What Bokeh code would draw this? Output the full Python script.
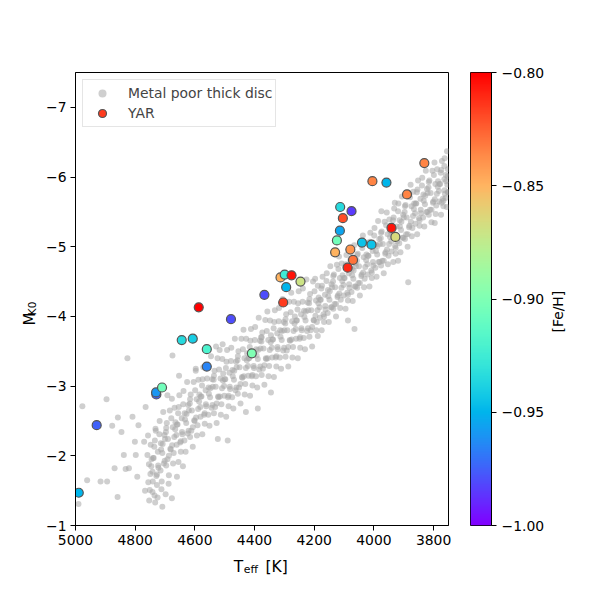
import math
import numpy as np
from bokeh.plotting import figure
from bokeh.models import (Range1d, FixedTicker, CustomJSTickFormatter, Legend, LegendItem,
                          Label, LinearColorMapper, ColumnDataSource)
from bokeh.layouts import row, column
from bokeh.embed import file_html
from bokeh.resources import INLINE

FONT = "DejaVu Sans"
FS = "13.9px"

# ---------------- data ----------------
yar_teff = [4989, 4929, 4729, 4730, 4710, 4644, 4607, 4560, 4560, 4587, 4479, 4409,
            4367, 4304, 4294, 4313, 4299, 4276, 4246, 4113, 4075, 4104, 4114, 4124,
            4130, 4079, 4070, 4088, 4040, 4008, 4005, 3958, 3889, 3831, 3941, 3928]
yar_mk = [-1.47, -2.44, -2.88, -2.91, -2.98, -3.66, -3.68, -3.53, -3.28, -4.13, -3.96, -3.47,
          -4.31, -4.20, -4.42, -4.56, -4.60, -4.59, -4.50, -5.57, -5.51, -5.41, -5.23, -5.09,
          -4.92, -4.96, -4.81, -4.70, -5.06, -5.03, -5.94, -5.92, -5.75, -6.20, -5.27, -5.14]
yar_feh = [-0.950, -0.975, -0.975, -0.960, -0.905, -0.935, -0.940, -0.920, -0.965, -0.800, -0.980, -0.900,
           -0.980, -0.815, -0.950, -0.850, -0.925, -0.805, -0.870, -0.935, -0.985, -0.820, -0.955, -0.905,
           -0.850, -0.840, -0.830, -0.810, -0.945, -0.945, -0.835, -0.950, -0.835, -0.835, -0.805, -0.865]

gray_teff = [
    4753, 4745, 4756, 4748, 4742, 4751, 4757, 4746, 4759, 4749, 4741, 4754,
    4727, 4734, 4723, 4732, 4738, 4729, 4724, 4735, 4722, 4736, 4740, 4727,
    4715, 4708, 4704, 4718, 4711, 4702, 4713, 4706, 4719, 4709, 4701, 4714,
    4684, 4692, 4697, 4687, 4694, 4681, 4690, 4696, 4682, 4696, 4700, 4687,
    4673, 4665, 4676, 4668, 4662, 4671, 4677, 4666, 4679, 4669, 4661, 4674,
    4647, 4654, 4643, 4652, 4658, 4649, 4644, 4655, 4642, 4656, 4660, 4647,
    4635, 4628, 4624, 4638, 4631, 4622, 4633, 4626, 4639, 4629, 4621, 4634,
    4604, 4612, 4617, 4607, 4614, 4601, 4610, 4616, 4602, 4616, 4620, 4607,
    4593, 4585, 4596, 4588, 4582, 4591, 4597, 4586, 4599, 4589, 4581, 4594,
    4567, 4574, 4563, 4572, 4578, 4569, 4564, 4575, 4562, 4576, 4580, 4567,
    4555, 4548, 4544, 4558, 4551, 4542, 4553, 4546, 4559, 4549, 4541, 4554,
    4524, 4532, 4537, 4527, 4534, 4521, 4530, 4536, 4522, 4536, 4540, 4527,
    4513, 4505, 4516, 4508, 4502, 4511, 4517, 4506, 4519, 4509, 4501, 4514,
    4487, 4494, 4483, 4492, 4498, 4489, 4484, 4495, 4482, 4496, 4500, 4487,
    4475, 4468, 4464, 4478, 4471, 4462, 4473, 4466, 4479, 4469, 4461, 4474,
    4444, 4452, 4457, 4447, 4454, 4441, 4450, 4456, 4442, 4456, 4460, 4447,
    4433, 4425, 4436, 4428, 4422, 4431, 4437, 4426, 4439, 4429, 4421, 4434,
    4407, 4414, 4403, 4412, 4418, 4409, 4404, 4415, 4402, 4416, 4420, 4407,
    4395, 4388, 4384, 4398, 4391, 4382, 4393, 4386, 4399, 4389, 4381, 4394,
    4364, 4372, 4377, 4367, 4374, 4361, 4370, 4376, 4362, 4376, 4380, 4367,
    4353, 4345, 4356, 4348, 4342, 4351, 4357, 4346, 4359, 4349, 4341, 4354,
    4327, 4334, 4323, 4332, 4338, 4329, 4324, 4335, 4322, 4336, 4340, 4327,
    4315, 4308, 4304, 4318, 4311, 4302, 4313, 4306, 4319, 4309, 4301, 4314,
    4284, 4292, 4297, 4287, 4294, 4281, 4290, 4296, 4282, 4296, 4300, 4287,
    4273, 4265, 4276, 4268, 4262, 4271, 4277, 4266, 4279, 4269, 4261, 4274,
    4247, 4254, 4243, 4252, 4258, 4249, 4244, 4255, 4242, 4256, 4260, 4247,
    4235, 4228, 4224, 4238, 4231, 4222, 4233, 4226, 4239, 4229, 4221, 4234,
    4204, 4212, 4217, 4207, 4214, 4201, 4210, 4216, 4202, 4216, 4220, 4207,
    4193, 4185, 4196, 4188, 4182, 4191, 4197, 4186, 4199, 4189, 4181, 4194,
    4167, 4174, 4163, 4172, 4178, 4169, 4164, 4175, 4162, 4176, 4180, 4167,
    4155, 4148, 4144, 4158, 4151, 4142, 4153, 4146, 4159, 4149, 4141, 4154,
    4124, 4132, 4137, 4127, 4134, 4121, 4130, 4136, 4122, 4136, 4140, 4127,
    4113, 4105, 4116, 4108, 4102, 4111, 4117, 4106, 4119, 4109, 4101, 4114,
    4087, 4094, 4083, 4092, 4098, 4089, 4084, 4095, 4082, 4096, 4100, 4087,
    4075, 4068, 4064, 4078, 4071, 4062, 4073, 4066, 4079, 4069, 4061, 4074,
    4044, 4052, 4057, 4047, 4054, 4041, 4050, 4056, 4042, 4056, 4060, 4047,
    4033, 4025, 4036, 4028, 4022, 4031, 4037, 4026, 4039, 4029, 4021, 4034,
    4007, 4014, 4003, 4012, 4018, 4009, 4004, 4015, 4002, 4016, 4020, 4007,
    3995, 3988, 3984, 3998, 3991, 3982, 3993, 3986, 3999, 3989, 3981, 3994,
    3964, 3972, 3977, 3967, 3974, 3961, 3970, 3976, 3962, 3976, 3980, 3967,
    3953, 3945, 3956, 3948, 3942, 3951, 3957, 3946, 3959, 3949, 3941, 3954,
    3927, 3934, 3923, 3932, 3938, 3929, 3924, 3935, 3922, 3936, 3940, 3927,
    3915, 3908, 3904, 3918, 3911, 3902, 3913, 3906, 3919, 3909, 3901, 3914,
    3884, 3892, 3897, 3887, 3894, 3881, 3890, 3896, 3882, 3896, 3900, 3887,
    3873, 3865, 3876, 3868, 3862, 3871, 3877, 3866, 3879, 3869, 3861, 3874,
    3847, 3854, 3843, 3852, 3858, 3849, 3844, 3855, 3842, 3856, 3860, 3847,
    3835, 3828, 3824, 3838, 3831, 3822, 3833, 3826, 3839, 3829, 3821, 3834,
    3804, 3812, 3817, 3807, 3814, 3801, 3810, 3816, 3802, 3816, 3820, 3807,
    3793, 3785, 3796, 3788, 3782, 3791, 3797, 3786, 3799, 3789, 3781, 3794,
    3767, 3774, 3763, 3772, 3778, 3769, 3764, 3775, 3762, 3776, 3780, 3767,
    3760, 3753, 3751, 3763, 3756, 3752, 3758, 3755, 3764, 3754, 3752, 3759,
    4977, 4896, 4858, 4877, 4846, 4838, 4869, 4916, 4961, 4859, 4990, 4709,
    4677, 4767, 4793, 4821, 4798, 4809, 4789, 4765, 4801, 4770, 4731, 4894,
    4832, 4826, 4675, 4653, 4692, 4507, 4529, 4597, 4378, 4345, 4490, 4389,
    4065, 4087, 4188, 3885, 3796, 3773, 3919, 3975, 3930, 4523, 4429,
    4742, 4725, 4712, 4698, 4688, 4733, 4660, 4640,
]
gray_mk = [
    -1.36, -1.95, -1.62, -2.16, -1.77, -1.51, -2.29, -1.85, -2.01, -1.74, -1.63, -1.88,
    -1.58, -2.22, -1.86, -2.39, -1.97, -1.71, -2.06, -1.43, -1.83, -2.13, -1.97, -1.73,
    -1.79, -2.17, -1.89, -2.50, -1.63, -2.30, -2.09, -2.63, -2.31, -2.04, -1.93, -2.18,
    -2.65, -1.95, -2.34, -1.72, -2.47, -2.09, -2.24, -1.86, -2.10, -2.40, -2.24, -2.00,
    -1.89, -2.48, -2.15, -2.69, -2.30, -2.04, -2.82, -2.38, -2.54, -2.27, -2.16, -2.41,
    -2.06, -2.70, -2.34, -2.87, -2.45, -2.19, -2.54, -1.91, -2.31, -2.61, -2.45, -2.21,
    -2.22, -2.60, -2.32, -2.93, -2.06, -2.73, -2.52, -3.06, -2.74, -2.47, -2.36, -2.61,
    -3.06, -2.36, -2.75, -2.13, -2.88, -2.50, -2.65, -2.27, -2.51, -2.81, -2.65, -2.41,
    -2.29, -2.88, -2.55, -3.09, -2.70, -2.44, -3.22, -2.78, -2.94, -2.67, -2.56, -2.81,
    -2.46, -3.10, -2.74, -3.27, -2.85, -2.59, -2.94, -2.31, -2.71, -3.01, -2.85, -2.61,
    -2.59, -2.97, -2.69, -3.30, -2.43, -3.10, -2.89, -3.43, -3.11, -2.84, -2.73, -2.98,
    -3.40, -2.70, -3.09, -2.47, -3.22, -2.84, -2.99, -2.61, -2.85, -3.15, -2.99, -2.75,
    -2.59, -3.18, -2.85, -3.39, -3.00, -2.74, -3.52, -3.08, -3.24, -2.97, -2.86, -3.11,
    -2.71, -3.35, -2.99, -3.52, -3.10, -2.84, -3.19, -2.56, -2.96, -3.26, -3.10, -2.86,
    -2.84, -3.22, -2.94, -3.55, -2.68, -3.35, -3.14, -3.68, -3.36, -3.09, -2.98, -3.23,
    -3.68, -2.98, -3.37, -2.75, -3.50, -3.12, -3.27, -2.89, -3.13, -3.43, -3.27, -3.03,
    -2.88, -3.47, -3.14, -3.68, -3.29, -3.03, -3.81, -3.37, -3.53, -3.26, -3.15, -3.40,
    -3.01, -3.65, -3.29, -3.82, -3.40, -3.14, -3.49, -2.86, -3.26, -3.56, -3.40, -3.16,
    -3.14, -3.52, -3.24, -3.85, -2.98, -3.65, -3.44, -3.98, -3.66, -3.39, -3.28, -3.53,
    -3.95, -3.25, -3.64, -3.02, -3.77, -3.39, -3.54, -3.16, -3.40, -3.70, -3.54, -3.30,
    -3.14, -3.73, -3.40, -3.94, -3.55, -3.29, -4.07, -3.63, -3.79, -3.52, -3.41, -3.66,
    -3.28, -3.92, -3.56, -4.09, -3.67, -3.41, -3.76, -3.13, -3.53, -3.83, -3.67, -3.43,
    -3.41, -3.79, -3.51, -4.12, -3.25, -3.92, -3.71, -4.25, -3.93, -3.66, -3.55, -3.80,
    -4.21, -3.51, -3.90, -3.28, -4.03, -3.65, -3.80, -3.42, -3.66, -3.96, -3.80, -3.56,
    -3.41, -4.00, -3.67, -4.21, -3.82, -3.56, -4.34, -3.90, -4.06, -3.79, -3.68, -3.93,
    -3.55, -4.19, -3.83, -4.36, -3.94, -3.68, -4.03, -3.40, -3.80, -4.10, -3.94, -3.70,
    -3.69, -4.07, -3.79, -4.40, -3.53, -4.20, -3.99, -4.53, -4.21, -3.94, -3.83, -4.08,
    -4.50, -3.80, -4.19, -3.57, -4.32, -3.94, -4.09, -3.71, -3.95, -4.25, -4.09, -3.85,
    -3.80, -4.27, -4.01, -4.44, -4.13, -3.92, -4.54, -4.19, -4.36, -4.09, -3.98, -4.23,
    -3.92, -4.44, -4.15, -4.57, -4.24, -4.03, -4.31, -3.80, -4.10, -4.40, -4.24, -4.00,
    -4.05, -4.36, -4.13, -4.62, -3.92, -4.46, -4.29, -4.72, -4.51, -4.24, -4.13, -4.38,
    -4.74, -4.18, -4.50, -4.00, -4.60, -4.30, -4.42, -4.11, -4.28, -4.58, -4.42, -4.18,
    -4.12, -4.59, -4.33, -4.76, -4.45, -4.24, -4.86, -4.51, -4.68, -4.41, -4.30, -4.55,
    -4.23, -4.75, -4.46, -4.88, -4.55, -4.34, -4.62, -4.11, -4.41, -4.71, -4.55, -4.31,
    -4.35, -4.66, -4.43, -4.92, -4.22, -4.76, -4.59, -5.02, -4.81, -4.54, -4.43, -4.68,
    -5.04, -4.48, -4.80, -4.30, -4.90, -4.60, -4.72, -4.41, -4.58, -4.88, -4.72, -4.48,
    -4.42, -4.89, -4.63, -5.06, -4.75, -4.54, -5.16, -4.81, -4.98, -4.71, -4.60, -4.85,
    -4.55, -5.07, -4.78, -5.20, -4.87, -4.66, -4.94, -4.43, -4.73, -5.03, -4.87, -4.63,
    -4.70, -5.01, -4.78, -5.27, -4.57, -5.11, -4.94, -5.37, -5.16, -4.89, -4.78, -5.03,
    -5.36, -4.80, -5.12, -4.62, -5.22, -4.92, -5.04, -4.73, -4.90, -5.20, -5.04, -4.80,
    -4.75, -5.22, -4.96, -5.39, -5.08, -4.87, -5.49, -5.14, -5.31, -5.04, -4.93, -5.18,
    -4.90, -5.42, -5.13, -5.55, -5.22, -5.01, -5.29, -4.78, -5.08, -5.38, -5.22, -4.98,
    -5.05, -5.36, -5.13, -5.62, -4.92, -5.46, -5.29, -5.72, -5.51, -5.24, -5.13, -5.38,
    -5.74, -5.18, -5.50, -5.00, -5.60, -5.30, -5.42, -5.11, -5.28, -5.58, -5.42, -5.18,
    -5.15, -5.62, -5.36, -5.79, -5.48, -5.27, -5.89, -5.54, -5.71, -5.44, -5.33, -5.58,
    -5.30, -5.82, -5.53, -5.95, -5.62, -5.41, -5.69, -5.18, -5.48, -5.78, -5.62, -5.38,
    -5.42, -5.73, -5.50, -5.99, -5.29, -5.83, -5.66, -6.09, -5.88, -5.61, -5.50, -5.75,
    -6.09, -5.53, -5.85, -5.35, -5.95, -5.65, -5.77, -5.46, -5.63, -5.93, -5.77, -5.53,
    -5.47, -5.94, -5.68, -6.11, -5.80, -5.59, -6.21, -5.86, -6.03, -5.76, -5.65, -5.90,
    -5.58, -6.10, -5.81, -6.23, -5.90, -5.69, -5.97, -5.46, -5.76, -6.06, -5.90, -5.66,
    -5.70, -6.01, -5.78, -6.27, -5.57, -6.11, -5.94, -6.37, -6.16, -5.89, -5.78, -6.03,
    -2.71, -2.81, -2.55, -2.43, -2.34, -2.01, -1.82, -1.63, -1.65, -1.41, -1.31, -1.27,
    -1.39, -1.50, -1.70, -1.82, -2.01, -2.56, -2.44, -2.70, -2.20, -2.20, -2.36, -1.63,
    -1.81, -3.40, -3.44, -3.15, -2.87, -3.60, -3.57, -3.25, -3.70, -2.91, -2.22, -2.68,
    -3.82, -3.94, -3.72, -4.49, -5.34, -5.63, -4.80, -5.51, -5.63, -2.24, -2.63,
    -1.48, -1.40, -1.52, -1.45, -1.60, -1.33, -1.70, -1.85,
]

x_ticks = [5000, 4800, 4600, 4400, 4200, 4000, 3800]
y_ticks = [-1, -2, -3, -4, -5, -6, -7]
cbar_ticks = [-1.00, -0.95, -0.90, -0.85, -0.80]
feh_low, feh_high = -1.00, -0.80

# matplotlib "rainbow" colormap
def rainbow_palette(n=256):
    cols = []
    for i in range(n):
        t = i / (n - 1)
        r = min(1.0, max(0.0, abs(2 * t - 0.5)))
        g = min(1.0, max(0.0, math.sin(math.pi * t)))
        b = min(1.0, max(0.0, math.cos(math.pi * t / 2)))
        cols.append("#%02x%02x%02x" % (round(r * 255), round(g * 255), round(b * 255)))
    return cols

mapper = LinearColorMapper(palette=rainbow_palette(), low=feh_low, high=feh_high)

fmt0 = CustomJSTickFormatter(code="return (tick < 0 ? '\u2212' : '') + Math.abs(tick).toFixed(0);")
fmt2 = CustomJSTickFormatter(code="return (tick < 0 ? '\u2212' : '') + Math.abs(tick).toFixed(2);")

def style_axis(ax):
    ax.axis_line_color = "black"
    ax.axis_line_width = 1
    ax.major_tick_line_color = "black"
    ax.major_tick_out = 5
    ax.major_tick_in = 0
    ax.minor_tick_line_color = None
    ax.major_label_text_font = FONT
    ax.major_label_text_font_size = FS
    ax.major_label_text_color = "black"
    ax.major_label_standoff = 4

def label_fig(w, h):
    f = figure(width=w, height=h, x_range=Range1d(0, w), y_range=Range1d(0, h),
               x_axis_type=None, y_axis_type=None, output_backend="svg",
               toolbar_location=None, min_border=0)
    f.outline_line_color = None
    f.background_fill_color = "white"
    f.border_fill_color = "white"
    return f

H = 555
# ---------------- main figure ----------------
p = figure(width=415, height=H, x_range=Range1d(5000, 3750), y_range=Range1d(-1, -7.5),
           output_backend="svg", toolbar_location=None,
           min_border_left=37, min_border_right=5, min_border_top=72, min_border_bottom=30)
p.xgrid.visible = False
p.ygrid.visible = False
p.outline_line_color = "black"
p.outline_line_width = 1
p.outline_line_alpha = 1
p.background_fill_color = "white"
p.border_fill_color = "white"
for ax in (p.xaxis[0], p.yaxis[0]):
    style_axis(ax)
p.xaxis[0].ticker = FixedTicker(ticks=x_ticks)
p.yaxis[0].ticker = FixedTicker(ticks=y_ticks)
p.xaxis[0].formatter = fmt0
p.yaxis[0].formatter = fmt0

r_gray = p.scatter(gray_teff, gray_mk, size=6, fill_color="#a8a8a8", fill_alpha=0.55,
                   line_color=None)
src = ColumnDataSource(dict(teff=yar_teff, mk=yar_mk, feh=yar_feh))
r_yar = p.scatter("teff", "mk", source=src, size=9,
                  fill_color={"field": "feh", "transform": mapper},
                  line_color="#555555", line_width=1.2)

legend = Legend(items=[LegendItem(label="Metal poor thick disc", renderers=[r_gray]),
                       LegendItem(label="YAR", renderers=[r_yar], index=13)],
                location="top_left", margin=7, padding=3, spacing=0,
                glyph_width=32, glyph_height=20, label_height=20, label_standoff=10,
                label_text_font=FONT, label_text_font_size=FS,
                border_line_color="#cccccc", border_line_width=1,
                background_fill_color="white", background_fill_alpha=0.8)
p.add_layout(legend)

# ---------------- colour bar ----------------
p2 = figure(width=94, height=H, x_range=Range1d(0, 1), y_range=Range1d(feh_low, feh_high),
            y_axis_location="right", output_backend="svg", toolbar_location=None,
            min_border_left=17, min_border_right=55, min_border_top=72, min_border_bottom=30)
p2.xaxis.visible = False
p2.xgrid.visible = False
p2.ygrid.visible = False
p2.outline_line_color = "black"
p2.outline_line_width = 1
p2.outline_line_alpha = 1
p2.border_fill_color = "white"
style_axis(p2.yaxis[0])
p2.yaxis[0].ticker = FixedTicker(ticks=cbar_ticks)
p2.yaxis[0].formatter = fmt2
p2.yaxis[0].major_label_standoff = 5
grad = np.linspace(feh_low, feh_high, 256).reshape(256, 1)
p2.image(image=[grad], x=0, y=feh_low, dw=1, dh=feh_high - feh_low, color_mapper=mapper)

# ---------------- axis labels (real text, with subscripts) ----------------
lbl = dict(text_font=FONT, text_color="black", text_baseline="alphabetic", text_align="left")
UP = math.pi / 2   # reads bottom-to-top
rot = dict(text_font=FONT, text_color="black", text_align="center", text_baseline="middle",
           angle=UP)

ylab = label_fig(38, H)
ylab.add_layout(Label(x=29.5, y=H - 302, text="M", text_font_size="15px", **rot))
ylab.add_layout(Label(x=31.5, y=H - 289, text="K0", text_font_size="10.5px", **rot))

flab = label_fig(30, H)
flab.add_layout(Label(x=10, y=H - 293, text="[Fe/H]", text_font_size=FS, **rot))

xlab = label_fig(453, 35)
xlab.add_layout(Label(x=233.3, y=23.3, text="T", text_font_size="15.5px", **lbl))
xlab.add_layout(Label(x=243.3, y=20.7, text="eff", text_font_size="10.9px", **lbl))
xlab.add_layout(Label(x=265, y=23.3, text="[K]", text_font_size="15.5px", **lbl))

layout = column(row(ylab, p, p2, flab), xlab)
open("out.html", "w").write(file_html(layout, INLINE, title="YAR"))
